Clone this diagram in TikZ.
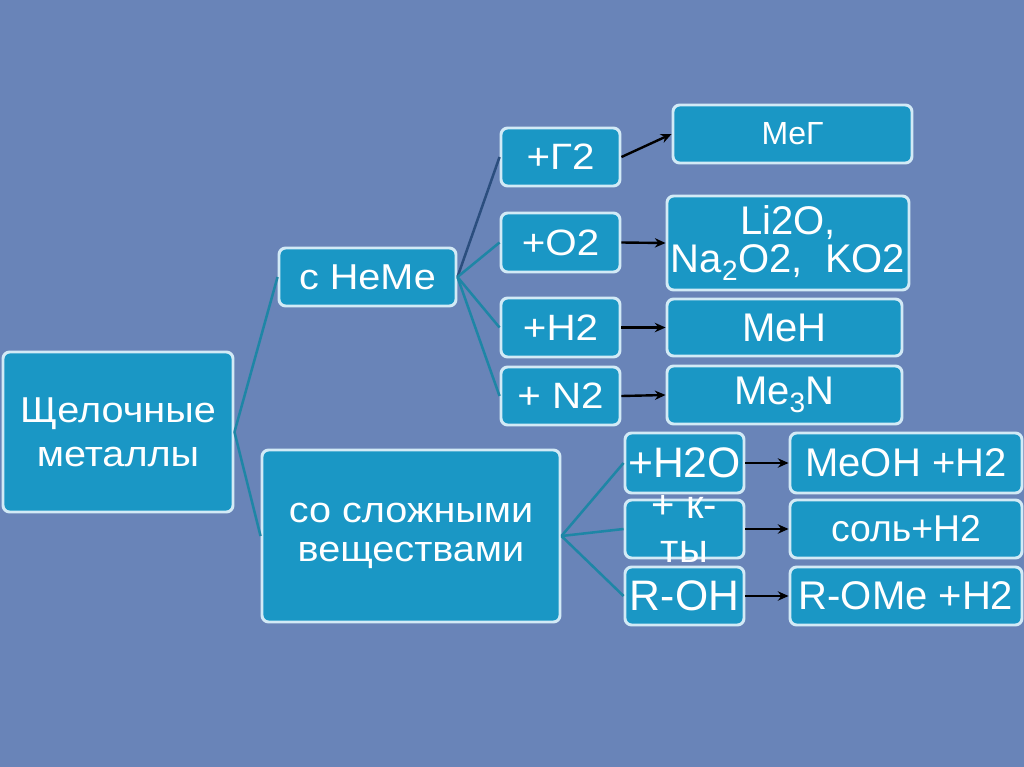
\documentclass[tikz,border=0pt]{standalone}
\usepackage{fontspec}
\setmainfont{Liberation Sans}
\newfontfamily\fL[FakeStretch=1.1]{Liberation Sans}
\newfontfamily\fM[FakeStretch=1.1]{Liberation Sans}
\usetikzlibrary{arrows.meta}
\definecolor{bgblue}{HTML}{6984B8}
\definecolor{boxfill}{HTML}{1A97C5}
\definecolor{boxline}{HTML}{D2EAF6}
\definecolor{teal}{HTML}{1E86A6}
\definecolor{navy}{HTML}{2B4E7E}
\begin{document}
\begin{tikzpicture}[x=0.75pt,y=-0.75pt,
  box/.style={draw=boxline, fill=boxfill, line width=2.2pt, rounded corners=5pt,
    inner sep=0pt, text=white, align=center},
  tL/.style={font=\fL\fontsize{27}{33}\selectfont},
  tM/.style={font=\fM\fontsize{27.5}{33}\selectfont},
  tR/.style={font=\fontsize{30}{29}\selectfont},
  tRb/.style={font=\fontsize{32}{33}\selectfont},
  tree/.style={teal, line width=1.9pt},
  arr/.style={black, line width=1.8pt, -{Stealth[length=8pt,width=7pt]}}
]
\useasboundingbox (0,0) rectangle (1024,767);
\fill[bgblue] (0,0) rectangle (1024,767);

% left and middle level
\node[box, tL, minimum width=230*0.75pt, minimum height=160*0.75pt] (alk) at (118,432) {Щелочные\\металлы};
\node[box, tL, minimum width=177*0.75pt, minimum height=58*0.75pt] (neme) at (367.5,277) {с НеМе};
\node[box, tL, font=\fL\fontsize{27}{29}\selectfont, minimum width=298*0.75pt, minimum height=172*0.75pt] (slozh) at (411,536) {со сложными\\веществами};

% reagents with non-metals
\node[box, tM, minimum width=119*0.75pt, minimum height=58*0.75pt] (g2) at (560.5,157) {+Г2};
\node[box, tM, minimum width=119*0.75pt, minimum height=59*0.75pt] (o2) at (560.5,242.5) {+O2};
\node[box, tM, minimum width=119*0.75pt, minimum height=59*0.75pt] (h2) at (560.5,327.5) {+H2};
\node[box, tM, minimum width=119*0.75pt, minimum height=58*0.75pt] (n2) at (560.5,396) {+ N2};

% products with non-metals
\node[box, font=\fontsize{24}{28}\selectfont, minimum width=239*0.75pt, minimum height=58*0.75pt] (meg) at (792.5,134) {MeГ};
\node[box, tR, minimum width=242*0.75pt, minimum height=94*0.75pt] (li2o) at (788,243) {Li2O,\\Na\textsubscript{2}O2,\ \ KO2};
\node[box, tR, minimum width=235*0.75pt, minimum height=57*0.75pt] (meh) at (784.5,327.5) {MeH};
\node[box, tR, minimum width=235*0.75pt, minimum height=58*0.75pt] (me3n) at (784.5,395) {Me\textsubscript{3}N};

% reagents complex substances
\node[box, tRb, minimum width=119*0.75pt, minimum height=60*0.75pt] (h2o) at (684.5,463) {+H2O};
\node[box, minimum width=119*0.75pt, minimum height=58*0.75pt,
  label={[text=white, align=center, font=\fontsize{30}{33}\selectfont]center:+ к-\\ты}] (acid) at (684.5,529) {};
\node[box, tRb, minimum width=119*0.75pt, minimum height=58*0.75pt] (roh) at (684.5,596) {R-OH};

% products complex substances
\node[box, tR, minimum width=232*0.75pt, minimum height=60*0.75pt] (meoh) at (906,463) {MeOH +H2};
\node[box, font=\fontsize{28}{30}\selectfont, minimum width=232*0.75pt, minimum height=58*0.75pt] (salt) at (906,529) {соль+H2};
\node[box, tR, minimum width=232*0.75pt, minimum height=58*0.75pt] (rome) at (906,596) {R-OMe +H2};

% tree connectors
\draw[tree] (alk.east) -- (neme.west);
\draw[tree] (alk.east) -- (slozh.west);
\draw[navy, line width=1.9pt] (neme.east) -- (g2.west);
\draw[tree] (neme.east) -- (o2.west);
\draw[tree] (neme.east) -- (h2.west);
\draw[tree] (neme.east) -- (n2.west);
\draw[tree] (slozh.east) -- (h2o.west);
\draw[tree] (slozh.east) -- (acid.west);
\draw[tree] (slozh.east) -- (roh.west);

% arrows
\draw[arr] (g2.east) -- (meg.west);
\draw[arr] (o2.east) -- (li2o.west);
\draw[arr] (h2.east) -- (meh.west);
\draw[arr] (n2.east) -- (me3n.west);
\draw[arr] (h2o.east) -- (meoh.west);
\draw[arr] (acid.east) -- (salt.west);
\draw[arr] (roh.east) -- (rome.west);
\end{tikzpicture}
\end{document}
